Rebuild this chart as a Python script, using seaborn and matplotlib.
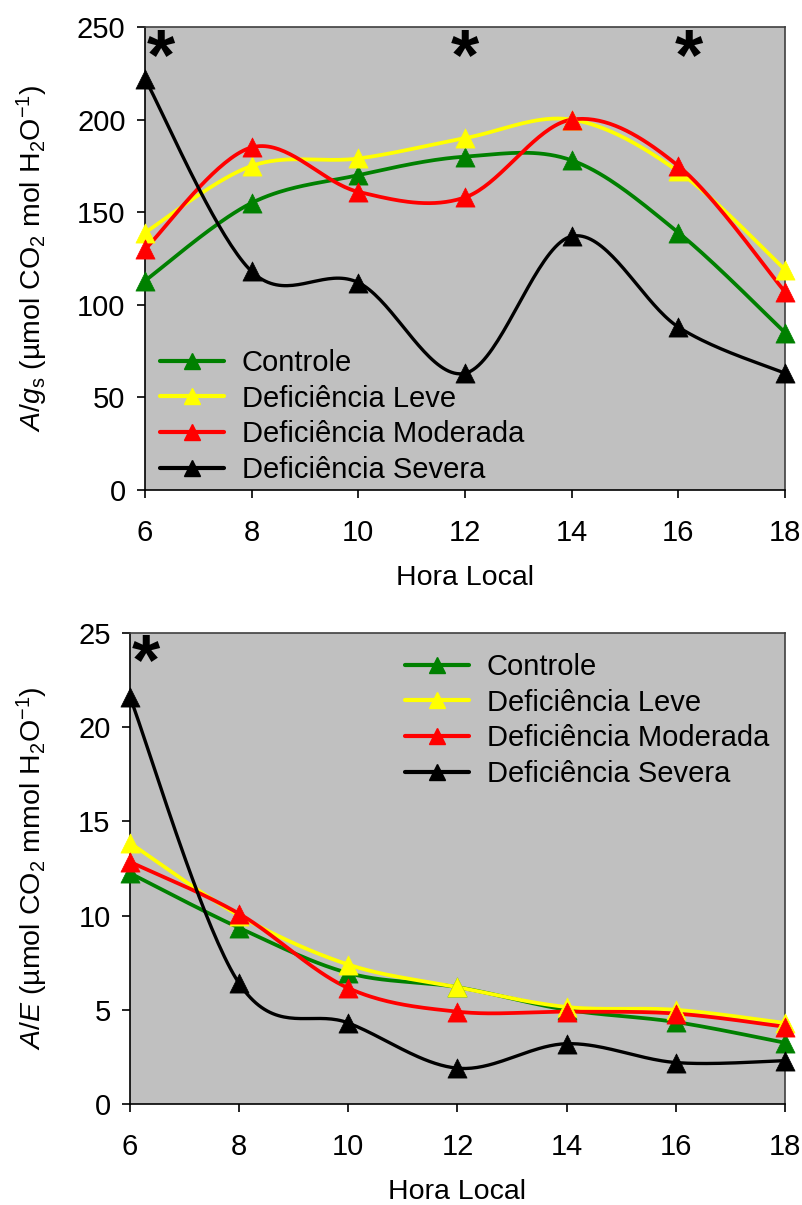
import numpy as np
import pandas as pd
import matplotlib
matplotlib.use("Agg")
import matplotlib.pyplot as plt
import seaborn as sns
from matplotlib.lines import Line2D

sns.set_theme(style="ticks")
plt.rcParams['font.family'] = ['Liberation Sans', 'DejaVu Sans']
plt.rcParams['mathtext.fontset'] = 'custom'
plt.rcParams['mathtext.rm'] = 'Liberation Sans'
plt.rcParams['mathtext.it'] = 'Liberation Sans:italic'
plt.rcParams['mathtext.bf'] = 'Liberation Sans:bold'
for k in ['text.color', 'axes.labelcolor', 'xtick.color', 'ytick.color',
          'xtick.labelcolor', 'ytick.labelcolor']:
    plt.rcParams[k] = 'black'

hours = [6, 8, 10, 12, 14, 16, 18]
series_names = ["Controle", "Deficiência Leve", "Deficiência Moderada", "Deficiência Severa"]
colors = ["#008000", "#FFFF00", "#FF0000", "#000000"]

ags_controle = [113, 155, 170, 180, 178, 139, 85]
ags_leve = [139, 175, 179, 190, 200, 172, 119]
ags_moderada = [130, 185, 161, 158, 200, 175, 107]
ags_severa = [222, 118, 112, 63, 137, 88, 63]

ae_controle = [12.25, 9.35, 6.95, 6.2, 5.0, 4.35, 3.25]
ae_leve = [13.85, 10.0, 7.4, 6.2, 5.15, 5.0, 4.3]
ae_moderada = [12.85, 10.1, 6.15, 4.9, 4.9, 4.8, 4.1]
ae_severa = [21.6, 6.4, 4.3, 1.9, 3.2, 2.2, 2.3]

top_sig_x = [6.3, 12.0, 16.2]
bot_sig_x = [6.3]


def smooth(xs, ys, sx, sy, n=40):
    """Excel-like Catmull-Rom smoothing (rendering only), in pixel-scaled space."""
    P = np.column_stack([np.asarray(xs, float) * sx, np.asarray(ys, float) * sy])
    out = []
    m = len(P)
    for i in range(m - 1):
        p0 = P[i - 1] if i > 0 else P[i]
        p1 = P[i]
        p2 = P[i + 1]
        p3 = P[i + 2] if i + 2 < m else P[i + 1]
        c1 = p1 + (p2 - p0) / 6.0
        c2 = p2 - (p3 - p1) / 6.0
        t = np.linspace(0, 1, n)[:, None]
        seg = ((1 - t) ** 3) * p1 + 3 * ((1 - t) ** 2) * t * c1 + 3 * (1 - t) * t ** 2 * c2 + t ** 3 * p2
        if i > 0:
            seg = seg[1:]
        out.append(seg)
    out = np.vstack(out)
    return out[:, 0] / sx, out[:, 1] / sy


W, H = 803, 1205
fig = plt.figure(figsize=(W / 100, H / 100), dpi=100)
ax1 = fig.add_axes([145 / W, 1 - 490 / H, 640 / W, 463 / H])
ax2 = fig.add_axes([130 / W, 1 - 1104 / H, 655 / W, 471 / H])

FS = 21
LFS = 20.5
lws = [2.7, 2.7, 2.7, 2.4]


def draw(ax, data, ylim, yticks, sx, sy):
    ax.set_facecolor("#C0C0C0")
    for vals, col, lw, name in zip(data, colors, lws, series_names):
        xd, yd = smooth(hours, vals, sx, sy)
        sns.lineplot(x=xd, y=yd, color=col, linewidth=lw, ax=ax, sort=False,
                     estimator=None, legend=False, zorder=3)
        sns.scatterplot(x=hours, y=vals, color=col, marker="^", s=190,
                        edgecolor=col, linewidth=0.5, ax=ax, zorder=4,
                        legend=False, clip_on=False)
    ax.set_xlim(6, 18)
    ax.set_ylim(*ylim)
    ax.set_xticks(hours)
    ax.set_yticks(yticks)
    ax.tick_params(axis="both", direction="out", length=6, width=1.2,
                   labelsize=FS, color="black", pad=8)
    ax.tick_params(axis="x", pad=15)
    for s in ["left", "bottom"]:
        ax.spines[s].set_color("black")
        ax.spines[s].set_linewidth(1.2)
    for s in ["top", "right"]:
        ax.spines[s].set_color("#404040")
        ax.spines[s].set_linewidth(1.2)
    ax.set_xlabel("Hora Local", fontsize=LFS, labelpad=13)
    handles = [Line2D([0], [0], color=c, lw=3, marker="^", markersize=12,
                      markeredgecolor=c) for c in colors]
    return handles


leg_kw = dict(frameon=False, fontsize=FS, handlelength=2.2, handletextpad=0.6,
              labelspacing=0.26, borderpad=0, borderaxespad=0, loc="upper left")

# top panel: pixel scales (x: 53.3 px per hour, y: 1.854 px per unit)
h = draw(ax1, [ags_controle, ags_leve, ags_moderada, ags_severa],
         (0, 250), [0, 50, 100, 150, 200, 250], 53.3, 1.854)
ax1.set_ylabel(r"$\mathit{A/g}_{\mathrm{s}}$ (µmol CO$_2$ mol H$_2$O$^{-1}$)", fontsize=LFS)
ax1.yaxis.set_label_coords(50 / W, 1 - 258 / H, transform=fig.transFigure)
ax1.legend(h, series_names, bbox_to_anchor=(160 / W, 1 - 349 / H),
           bbox_transform=fig.transFigure, **leg_kw)
for xs in top_sig_x:
    ax1.text(xs, 232, "*", fontsize=52, fontweight="bold", ha="center", va="center")

# bottom panel
h = draw(ax2, [ae_controle, ae_leve, ae_moderada, ae_severa],
         (0, 25), [0, 5, 10, 15, 20, 25], 54.6, 18.84)
ax2.set_ylabel(r"$\mathit{A/E}$ (µmol CO$_2$ mmol H$_2$O$^{-1}$)", fontsize=LFS)
ax2.yaxis.set_label_coords(50 / W, 1 - 868 / H, transform=fig.transFigure)
ax2.legend(h, series_names, bbox_to_anchor=(405 / W, 1 - 653 / H),
           bbox_transform=fig.transFigure, **leg_kw)
for xs in bot_sig_x:
    ax2.text(xs, 23.3, "*", fontsize=52, fontweight="bold", ha="center", va="center")

fig.savefig("out.png", dpi=100)
